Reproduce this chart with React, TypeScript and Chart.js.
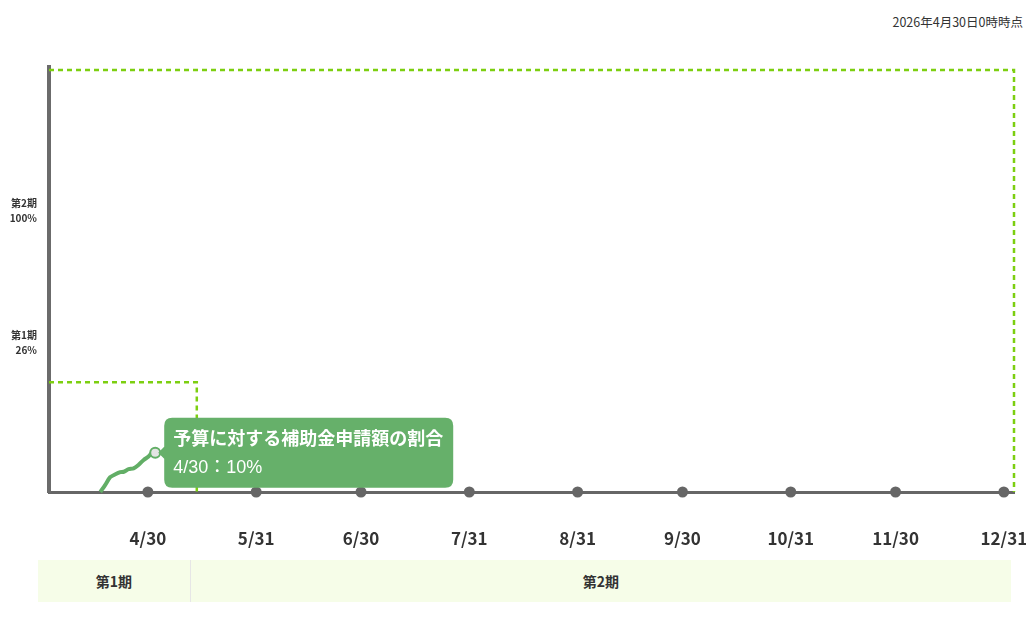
import React, { useEffect, useRef } from "react";
import { Chart, registerables } from "chart.js";

Chart.register(...registerables);

// ---- data ----
const asOfLabel = "2026年4月30日0時時点";
// x values are days counted from 4/1
const xTickDays = [29, 60, 90, 121, 152, 182, 213, 243, 274];
const xTickLabels = ["4/30", "5/31", "6/30", "7/31", "8/31", "9/30", "10/31", "11/30", "12/31"];
const xMinDay = 0.7;
const xMaxDay = 276.9;
const yMax = 100.7;
const yTickValues = [35.4, 66.7];
const yTickLabels = [["第1期", "26%"], ["第2期", "100%"]];

const applyDays = [15.4, 16.8, 18.2, 19.7, 21.1, 22.1, 23.5, 24.9, 26.3, 27.8, 29.2, 30.1, 31.1];
const applyPct = [0, 1.7, 3.5, 4.2, 4.7, 4.8, 5.4, 5.6, 6.4, 7.6, 8.4, 9.2, 9.3];

const period1Budget = 26;
const period1EndDay = 43;
const period2Budget = 100;
const period2EndDay = 276.9;
const periodNames = ["第1期", "第2期"];

const tooltipTitle = "予算に対する補助金申請額の割合";
const tooltipDate = "4/30";
const tooltipPct = 10;

const GREEN = "#62ae66";
const DASH_GREEN = "#7ccf10";
const AXIS = "#666666";
const TEXT = "#333333";
const FONT = "'Noto Sans CJK JP', 'Noto Sans', sans-serif";

export default function App() {
  const canvasRef = useRef<HTMLCanvasElement | null>(null);

  useEffect(() => {
    const canvas = canvasRef.current;
    if (!canvas) return;

    const lineData = applyDays.map((d, i) => ({ x: d, y: applyPct[i] }));
    const p1 = [
      { x: xMinDay, y: period1Budget },
      { x: period1EndDay, y: period1Budget },
      { x: period1EndDay, y: 0 },
    ];
    const p2 = [
      { x: xMinDay, y: period2Budget },
      { x: period2EndDay, y: period2Budget },
      { x: period2EndDay, y: 0 },
    ];
    const tickDots = xTickDays.map((d) => ({ x: d, y: 0 }));

    const chart = new Chart(canvas, {
      type: "line",
      data: {
        datasets: [
          {
            label: "applied",
            data: lineData,
            borderColor: GREEN,
            borderWidth: 4,
            tension: 0.25,
            pointRadius: 0,
            pointHoverRadius: 5,
            pointHoverBackgroundColor: "#e4e4e4",
            pointHoverBorderColor: GREEN,
            pointHoverBorderWidth: 2,
            clip: false as any,
            order: 1,
          },
          {
            label: "p1",
            data: p1,
            borderColor: DASH_GREEN,
            borderWidth: 2.5,
            borderDash: [5, 4],
            pointRadius: 0,
            tension: 0,
            clip: false as any,
            order: 3,
          },
          {
            label: "p2",
            data: p2,
            borderColor: DASH_GREEN,
            borderWidth: 2.5,
            borderDash: [5, 4],
            pointRadius: 0,
            tension: 0,
            clip: false as any,
            order: 3,
          },
          {
            label: "ticks",
            data: tickDots,
            showLine: false,
            pointRadius: 5.5,
            pointBackgroundColor: AXIS,
            pointBorderWidth: 0,
            clip: false as any,
            order: 2,
          },
        ],
      },
      options: {
        animation: false,
        responsive: true,
        maintainAspectRatio: false,
        events: [],
        layout: { padding: { top: 59, right: 12, left: 0, bottom: 56 } },
        plugins: {
          legend: { display: false },
          tooltip: {
            enabled: true,
            backgroundColor: "#66b06a",
            xAlign: "left",
            yAlign: "center",
            caretSize: 6,
            caretPadding: 3,
            cornerRadius: 8,
            padding: { top: 10, bottom: 9, left: 9, right: 10 },
            displayColors: false,
            titleColor: "#ffffff",
            bodyColor: "#ffffff",
            titleFont: { family: FONT, size: 18, weight: "bold" },
            bodyFont: { family: "'Liberation Sans', 'Noto Sans CJK JP', sans-serif", size: 18 },
            titleMarginBottom: 8,
            callbacks: {
              title: () => tooltipTitle,
              label: () => `${tooltipDate}：${tooltipPct}%`,
            },
          },
        },
        scales: {
          x: {
            type: "linear",
            min: xMinDay,
            max: xMaxDay,
            grid: { display: false, drawTicks: false },
            border: { display: true, color: AXIS, width: 3 },
            afterBuildTicks: (scale: any) => {
              scale.ticks = xTickDays.map((v) => ({ value: v }));
            },
            afterFit: (scale: any) => {
              scale.height = 60;
              scale.paddingLeft = 0;
              scale.paddingRight = 0;
            },
            ticks: {
              autoSkip: false,
              maxRotation: 0,
              padding: 36,
              color: TEXT,
              font: { family: FONT, size: 17, weight: "bold" },
              callback: (v: any) => {
                const i = xTickDays.indexOf(Number(v));
                return i >= 0 ? xTickLabels[i] : "";
              },
            },
          },
          y: {
            type: "linear",
            min: 0,
            max: yMax,
            grid: { display: false, drawTicks: false },
            border: { display: true, color: "#6b6b6b", width: 4 },
            afterBuildTicks: (scale: any) => {
              scale.ticks = yTickValues.map((v) => ({ value: v }));
            },
            afterFit: (scale: any) => {
              scale.width = 41;
              scale.paddingTop = 0;
              scale.paddingBottom = 0;
            },
            ticks: {
              autoSkip: false,
              padding: 12,
              color: TEXT,
              font: { family: FONT, size: 10, weight: "bold", lineHeight: 1.5 },
              callback: (v: any) => {
                const i = yTickValues.indexOf(Number(v));
                return i >= 0 ? yTickLabels[i] : "";
              },
            },
          },
        },
      },
    });

    const active = [{ datasetIndex: 0, index: applyDays.length - 1 }];
    chart.setActiveElements(active);
    chart.tooltip?.setActiveElements(active, { x: 0, y: 0 });
    chart.update();

    return () => chart.destroy();
  }, []);

  return (
    <div style={{ position: "relative", width: 1018, height: 600, fontFamily: FONT }}>
      <div
        style={{
          position: "absolute",
          right: 3,
          top: 6,
          fontSize: 12.5,
          lineHeight: "16px",
          color: TEXT,
        }}
      >
        {asOfLabel}
      </div>
      <div style={{ position: "absolute", left: 0, top: 0, width: 1018, height: 600 }}>
        <canvas ref={canvasRef} />
      </div>
      <div
        style={{
          position: "absolute",
          left: 30,
          top: 552,
          height: 42,
          display: "flex",
          background: "#f6fde8",
          color: TEXT,
          fontSize: 14,
          fontWeight: "bold",
        }}
      >
        <div
          style={{
            width: 152,
            display: "flex",
            alignItems: "center",
            justifyContent: "center",
            borderRight: "1px solid #e6e6e6",
          }}
        >
          {periodNames[0]}
        </div>
        <div
          style={{
            width: 820,
            display: "flex",
            alignItems: "center",
            justifyContent: "center",
          }}
        >
          {periodNames[1]}
        </div>
      </div>
    </div>
  );
}
